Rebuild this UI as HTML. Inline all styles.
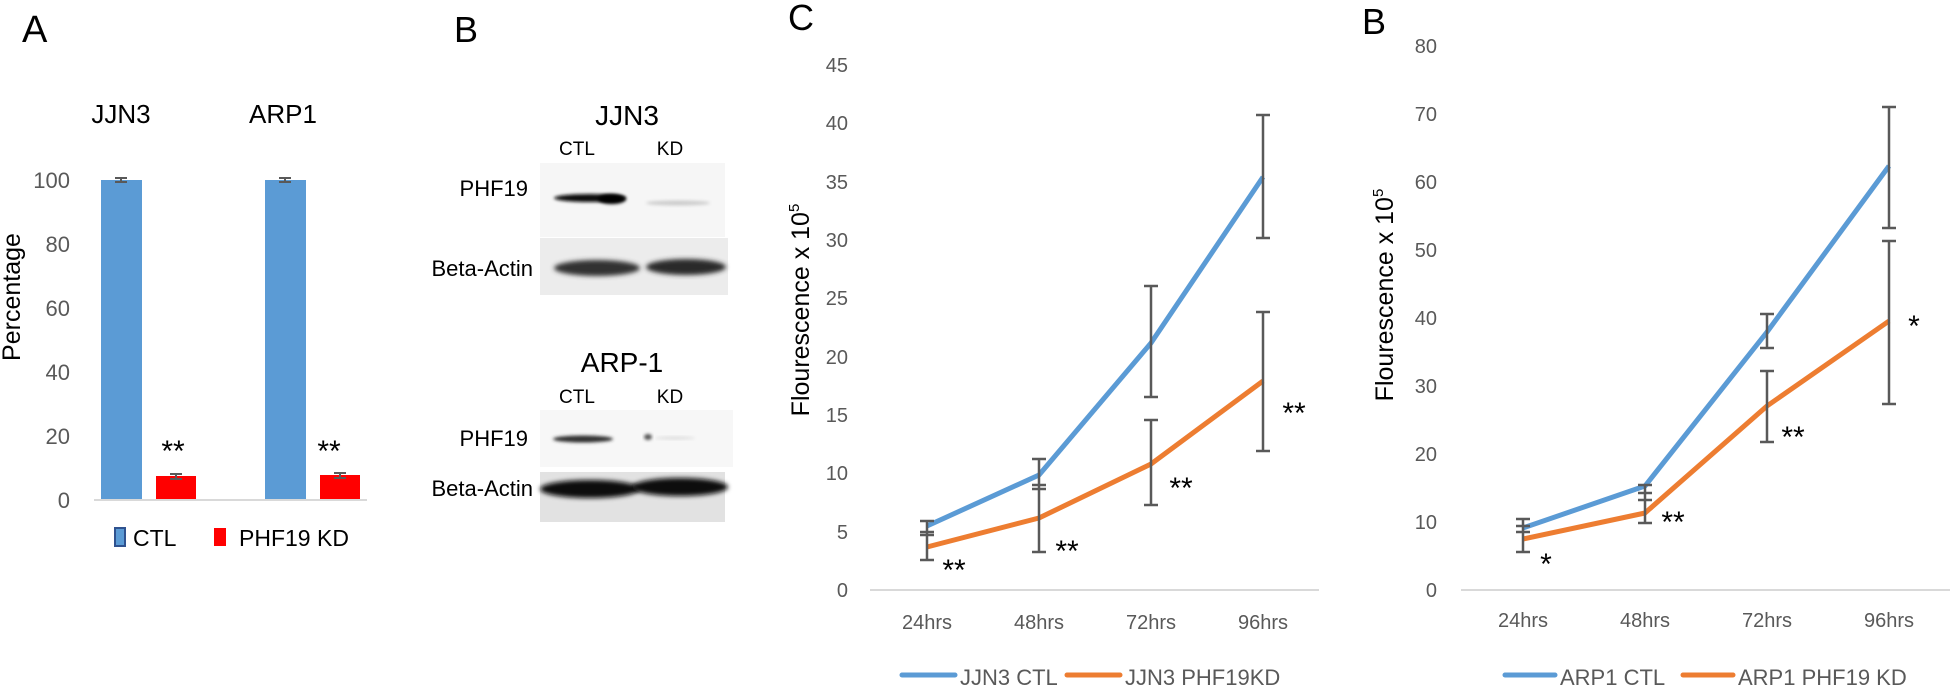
<!DOCTYPE html>
<html><head><meta charset="utf-8"><style>
html,body{margin:0;padding:0;background:#fff;}
svg{display:block;font-family:"Liberation Sans",sans-serif;}
</style></head><body>
<svg width="1950" height="685" viewBox="0 0 1950 685" xmlns="http://www.w3.org/2000/svg">
<defs>
<filter id="blur1" x="-20%" y="-50%" width="140%" height="200%"><feGaussianBlur stdDeviation="2.5"/></filter>
<filter id="blur2" x="-20%" y="-50%" width="140%" height="200%"><feGaussianBlur stdDeviation="1.5"/></filter>
</defs>
<!-- Panel A -->
<text x="22" y="42" font-size="38" fill="#000">A</text>
<text x="121" y="123" font-size="26" text-anchor="middle">JJN3</text>
<text x="283" y="123" font-size="26" text-anchor="middle">ARP1</text>
<g font-size="22" fill="#595959" text-anchor="end">
<text x="70" y="188">100</text><text x="70" y="252">80</text><text x="70" y="316">60</text>
<text x="70" y="380">40</text><text x="70" y="444">20</text><text x="70" y="508">0</text>
</g>
<text transform="translate(20,297) rotate(-90)" font-size="25" text-anchor="middle">Percentage</text>
<rect x="101" y="180" width="41" height="320" fill="#5b9bd5"/>
<rect x="265" y="180" width="41" height="320" fill="#5b9bd5"/>
<rect x="156" y="476" width="40" height="24" fill="#ff0000"/>
<rect x="320" y="475" width="40" height="25" fill="#ff0000"/>
<g stroke="#595959" stroke-width="2">
<path d="M115 178h12M115 182h12M121 178v4M279 178h12M279 182h12M285 178v4"/>
<path d="M170 474h12M170 479h12M176 474v5M334 473h12M334 478h12M340 473v5"/>
</g>
<line x1="94" y1="500" x2="367" y2="500" stroke="#d9d9d9" stroke-width="2"/>
<text x="173" y="461" font-size="30" text-anchor="middle">**</text>
<text x="329" y="461" font-size="30" text-anchor="middle">**</text>
<rect x="115" y="528" width="10" height="18" fill="#5b9bd5" stroke="#2f528f" stroke-width="2"/>
<text x="133" y="546" font-size="23">CTL</text>
<rect x="214" y="528" width="12" height="18" fill="#ff0000"/>
<text x="239" y="546" font-size="23">PHF19 KD</text>

<!-- Panel B -->
<text x="454" y="42" font-size="36">B</text>
<text x="627" y="125" font-size="28" text-anchor="middle">JJN3</text>
<text x="577" y="155" font-size="19" text-anchor="middle">CTL</text>
<text x="670" y="155" font-size="19" text-anchor="middle">KD</text>
<text x="528" y="196" font-size="22" text-anchor="end">PHF19</text>
<text x="533" y="276" font-size="22" text-anchor="end">Beta-Actin</text>
<rect x="540" y="163" width="185" height="74" fill="#f6f6f6"/>
<rect x="540" y="238" width="188" height="57" fill="#ececec"/>
<ellipse cx="590" cy="198" rx="36" ry="4" fill="#111" filter="url(#blur2)"/>
<ellipse cx="612" cy="199" rx="14" ry="5" fill="#000" filter="url(#blur2)"/>
<ellipse cx="678" cy="203" rx="32" ry="2.5" fill="#ccc" filter="url(#blur2)"/>
<ellipse cx="597" cy="268" rx="43" ry="8" fill="#333" filter="url(#blur1)"/>
<ellipse cx="686" cy="267" rx="40" ry="8" fill="#2a2a2a" filter="url(#blur1)"/>
<text x="622" y="372" font-size="28" text-anchor="middle">ARP-1</text>
<text x="577" y="403" font-size="19" text-anchor="middle">CTL</text>
<text x="670" y="403" font-size="19" text-anchor="middle">KD</text>
<text x="528" y="446" font-size="22" text-anchor="end">PHF19</text>
<text x="533" y="496" font-size="22" text-anchor="end">Beta-Actin</text>
<rect x="540" y="410" width="193" height="57" fill="#f7f7f7"/>
<rect x="540" y="472" width="185" height="50" fill="#e2e2e2"/>
<ellipse cx="583" cy="439" rx="30" ry="3.5" fill="#333" filter="url(#blur2)"/>
<ellipse cx="648" cy="437" rx="4" ry="3" fill="#555" filter="url(#blur2)"/>
<ellipse cx="675" cy="438" rx="20" ry="1.5" fill="#ddd" filter="url(#blur2)"/>
<ellipse cx="590" cy="489" rx="50" ry="9" fill="#0a0a0a" filter="url(#blur1)"/>
<ellipse cx="680" cy="487" rx="48" ry="9" fill="#0a0a0a" filter="url(#blur1)"/>

<!-- Panel C -->
<text x="788" y="30" font-size="36">C</text>
<g font-size="20" fill="#595959" text-anchor="end">
<text x="848" y="72">45</text><text x="848" y="130">40</text><text x="848" y="189">35</text>
<text x="848" y="247">30</text><text x="848" y="305">25</text><text x="848" y="364">20</text>
<text x="848" y="422">15</text><text x="848" y="480">10</text><text x="848" y="539">5</text>
<text x="848" y="597">0</text>
</g>
<text transform="translate(809,310) rotate(-90)" font-size="25" text-anchor="middle">Flourescence x 10<tspan font-size="15" dy="-10">5</tspan></text>
<line x1="870" y1="590" x2="1319" y2="590" stroke="#d9d9d9" stroke-width="2"/>
<g font-size="20" fill="#595959" text-anchor="middle">
<text x="927" y="629">24hrs</text><text x="1039" y="629">48hrs</text>
<text x="1151" y="629">72hrs</text><text x="1263" y="629">96hrs</text>
</g>
<polyline points="927,526 1039,475 1151,343 1263,177" fill="none" stroke="#5b9bd5" stroke-width="5" stroke-linejoin="round"/>
<polyline points="927,547 1039,518 1151,464 1263,381" fill="none" stroke="#ed7d31" stroke-width="5" stroke-linejoin="round"/>
<g stroke="#595959" stroke-width="2.5" fill="none">
<path d="M927 521V560M920 521h14M920 532h14M920 535h14M920 560h14"/>
<path d="M1039 459V552M1032 459h14M1032 485h14M1032 489h14M1032 552h14"/>
<path d="M1151 286V397M1144 286h14M1144 397h14M1151 420V505M1144 420h14M1144 505h14"/>
<path d="M1263 115V238M1256 115h14M1256 238h14M1263 312V451M1256 312h14M1256 451h14"/>
</g>
<g font-size="30" text-anchor="middle">
<text x="954" y="580">**</text><text x="1067" y="561">**</text>
<text x="1181" y="498">**</text><text x="1294" y="423">**</text>
</g>
<line x1="902" y1="675" x2="955" y2="675" stroke="#5b9bd5" stroke-width="5" stroke-linecap="round"/>
<text x="960" y="685" font-size="22" fill="#595959">JJN3 CTL</text>
<line x1="1067" y1="675" x2="1120" y2="675" stroke="#ed7d31" stroke-width="5" stroke-linecap="round"/>
<text x="1125" y="685" font-size="22" fill="#595959">JJN3 PHF19KD</text>

<!-- Panel D -->
<text x="1362" y="34" font-size="36">B</text>
<g font-size="20" fill="#595959" text-anchor="end">
<text x="1437" y="53">80</text><text x="1437" y="121">70</text><text x="1437" y="189">60</text>
<text x="1437" y="257">50</text><text x="1437" y="325">40</text><text x="1437" y="393">30</text>
<text x="1437" y="461">20</text><text x="1437" y="529">10</text><text x="1437" y="597">0</text>
</g>
<text transform="translate(1393,295) rotate(-90)" font-size="25" text-anchor="middle">Flourescence x 10<tspan font-size="15" dy="-10">5</tspan></text>
<line x1="1461" y1="590" x2="1950" y2="590" stroke="#d9d9d9" stroke-width="2"/>
<g font-size="20" fill="#595959" text-anchor="middle">
<text x="1523" y="627">24hrs</text><text x="1645" y="627">48hrs</text>
<text x="1767" y="627">72hrs</text><text x="1889" y="627">96hrs</text>
</g>
<polyline points="1523,528 1645,486 1767,332 1889,166" fill="none" stroke="#5b9bd5" stroke-width="5" stroke-linejoin="round"/>
<polyline points="1523,539 1645,513 1767,406 1889,321" fill="none" stroke="#ed7d31" stroke-width="5" stroke-linejoin="round"/>
<g stroke="#595959" stroke-width="2.5" fill="none">
<path d="M1523 519V552M1516 519h14M1516 532h14M1516 526h14M1516 552h14"/>
<path d="M1645 485V523M1638 485h14M1638 493h14M1638 500h14M1638 523h14"/>
<path d="M1767 314V348M1760 314h14M1760 348h14M1767 371V442M1760 371h14M1760 442h14"/>
<path d="M1889 107V228M1882 107h14M1882 228h14M1889 241V404M1882 241h14M1882 404h14"/>
</g>
<g font-size="30" text-anchor="middle">
<text x="1546" y="574">*</text><text x="1673" y="532">**</text>
<text x="1793" y="447">**</text><text x="1914" y="336">*</text>
</g>
<line x1="1505" y1="675" x2="1555" y2="675" stroke="#5b9bd5" stroke-width="5" stroke-linecap="round"/>
<text x="1560" y="685" font-size="22" fill="#595959">ARP1 CTL</text>
<line x1="1683" y1="675" x2="1733" y2="675" stroke="#ed7d31" stroke-width="5" stroke-linecap="round"/>
<text x="1738" y="685" font-size="22" fill="#595959">ARP1 PHF19 KD</text>
</svg>
</body></html>
